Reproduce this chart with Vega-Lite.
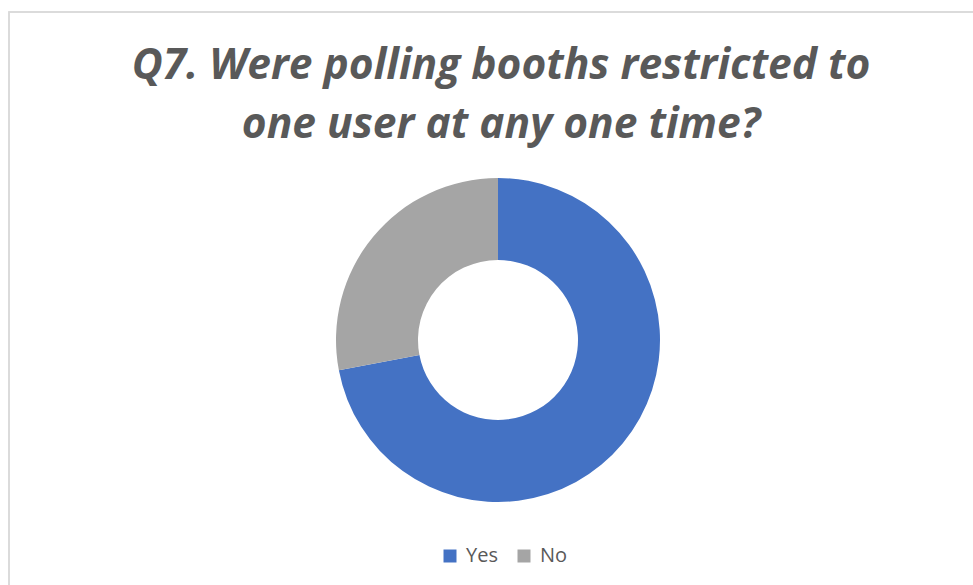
{
  "$schema": "https://vega.github.io/schema/vega-lite/v6.json",
  "autosize": {"type": "none"},
  "padding": {"left": 9, "top": 12, "right": 0, "bottom": 0},
  "width": 978,
  "height": 656,
  "background": "white",
  "title": {
    "text": ["Q7. Were polling booths restricted to", "one user at any one time?"],
    "orient": "top",
    "anchor": "middle",
    "frame": "group",
    "offset": -135,
    "dx": 3,
    "font": "Open Sans",
    "fontSize": 42.5,
    "fontStyle": "italic",
    "fontWeight": "bold",
    "color": "#595959",
    "lineHeight": 59
  },
  "config": {
    "view": {"stroke": null}
  },
  "data": {
    "values": [
      {"answer": "Yes", "share": 72},
      {"answer": "No", "share": 28}
    ]
  },
  "layer": [
    {
      "mark": {"type": "rect", "fill": null, "stroke": "#d9d9d9", "strokeWidth": 1.5},
      "encoding": {}
    },
    {
      "mark": {"type": "arc", "radius": 162, "innerRadius": 80},
      "encoding": {
        "theta": {"field": "share", "type": "quantitative", "stack": true},
        "order": {"field": "answer", "sort": "descending"},
        "color": {
          "field": "answer",
          "type": "nominal",
          "scale": {"domain": ["Yes", "No"], "range": ["#4472C4", "#A5A5A5"]},
          "legend": {
            "title": null,
            "orient": "none",
            "direction": "horizontal",
            "legendX": 431,
            "legendY": 534,
            "symbolType": "square",
            "symbolSize": 169,
            "symbolStrokeWidth": 0,
            "labelFont": "Open Sans",
            "labelFontSize": 20,
            "labelColor": "#595959",
            "labelOffset": 6,
            "columnPadding": 16,
            "symbolOffset": 0
          }
        }
      }
    }
  ]
}
